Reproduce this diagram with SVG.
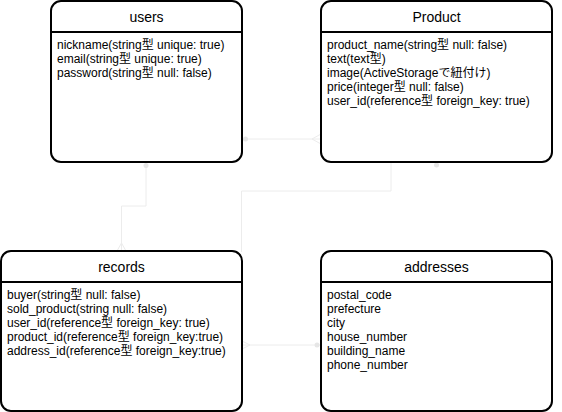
<svg xmlns="http://www.w3.org/2000/svg" width="562" height="412" viewBox="0 0 562 412">
<defs>
<style>
.box{fill:#ffffff;stroke:#000000;stroke-width:2}
.div{stroke:#000000;stroke-width:2}
.title{font-family:"Liberation Sans",Arial,"Noto Sans CJK JP",sans-serif;font-size:14px;fill:#000000;text-anchor:middle}
.body{font-family:"Liberation Sans",Arial,"Noto Sans CJK JP",sans-serif;font-size:12px;fill:#000000}
.edge{fill:none;stroke:#ececec;stroke-width:1}
.dot{fill:#e6e6e6;stroke:none}
</style>
</defs>
<rect width="562" height="412" fill="#ffffff"/>
<g id="connectors">
  <!-- users - Product -->
  <path class="edge" d="M242 139 L321 139"/>
  <circle class="dot" cx="245.5" cy="139" r="2.5"/>
  <path class="edge" d="M312 139 L321 134 M312 139 L321 144"/>
  <!-- users - records -->
  <path class="edge" d="M146 162 L146 206 L121.5 206 L121.5 251"/>
  <circle class="dot" cx="146" cy="165.5" r="2.5"/>
  <path class="edge" d="M121.5 243 L117 251 M121.5 243 L126 251"/>
  <!-- Product - records -->
  <path class="edge" d="M391 162 L391 191 L241.5 191 L241.5 252"/>
  <circle class="dot" cx="436.5" cy="165" r="2.5"/>
  <!-- records - addresses -->
  <path class="edge" d="M242 345 L321 345"/>
  <path class="edge" d="M250 345 L242 341 M250 345 L242 349"/>
  <circle class="dot" cx="317" cy="345" r="2.5"/>
</g>
<g id="users">
  <rect class="box" x="51" y="1" width="191" height="161" rx="10"/>
  <line class="div" x1="51" y1="32" x2="242" y2="32"/>
  <text class="title" x="146.5" y="22">users</text>
  <text class="body" x="57" y="49">nickname(string型 unique: true)</text>
  <text class="body" x="57" y="63">email(string型 unique: true)</text>
  <text class="body" x="57" y="77">password(string型 null: false)</text>
</g>
<g id="product">
  <rect class="box" x="321" y="1" width="231" height="161" rx="10"/>
  <line class="div" x1="321" y1="32" x2="552" y2="32"/>
  <text class="title" x="436.5" y="22">Product</text>
  <text class="body" x="327" y="49">product_name(string型 null: false)</text>
  <text class="body" x="327" y="63">text(text型)</text>
  <text class="body" x="327" y="77">image(ActiveStorageで紐付け)</text>
  <text class="body" x="327" y="91">price(integer型 null: false)</text>
  <text class="body" x="327" y="105">user_id(reference型 foreign_key: true)</text>
</g>
<g id="records">
  <rect class="box" x="1" y="251" width="241" height="160" rx="10"/>
  <line class="div" x1="1" y1="282" x2="242" y2="282"/>
  <text class="title" x="121.5" y="272">records</text>
  <text class="body" x="7" y="299">buyer(string型 null: false)</text>
  <text class="body" x="7" y="313">sold_product(string null: false)</text>
  <text class="body" x="7" y="327">user_id(reference型 foreign_key: true)</text>
  <text class="body" x="7" y="341">product_id(reference型 foreign_key:true)</text>
  <text class="body" x="7" y="355">address_id(reference型 foreign_key:true)</text>
</g>
<g id="addresses">
  <rect class="box" x="321" y="251" width="231" height="160" rx="10"/>
  <line class="div" x1="321" y1="282" x2="552" y2="282"/>
  <text class="title" x="436.5" y="272">addresses</text>
  <text class="body" x="327" y="299">postal_code</text>
  <text class="body" x="327" y="313">prefecture</text>
  <text class="body" x="327" y="327">city</text>
  <text class="body" x="327" y="341">house_number</text>
  <text class="body" x="327" y="355">building_name</text>
  <text class="body" x="327" y="369">phone_number</text>
</g>
</svg>
